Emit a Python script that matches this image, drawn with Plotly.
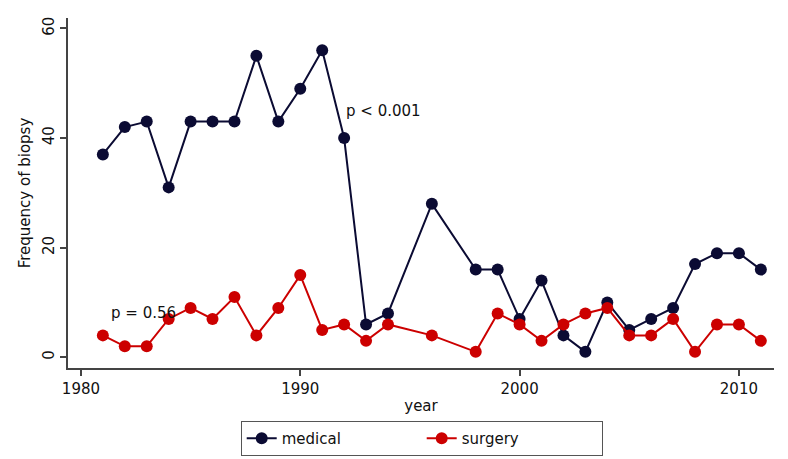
import plotly.graph_objects as go

years = [1981, 1982, 1983, 1984, 1985, 1986, 1987, 1988, 1989, 1990, 1991, 1992,
         1993, 1994, 1996, 1998, 1999, 2000, 2001, 2002, 2003, 2004, 2005, 2006,
         2007, 2008, 2009, 2010, 2011]
medical = [37, 42, 43, 31, 43, 43, 43, 55, 43, 49, 56, 40,
           6, 8, 28, 16, 16, 7, 14, 4, 1, 10, 5, 7,
           9, 17, 19, 19, 16]
surgery = [4, 2, 2, 7, 9, 7, 11, 4, 9, 15, 5, 6,
           3, 6, 4, 1, 8, 6, 3, 6, 8, 9, 4, 4,
           7, 1, 6, 6, 3]
x_ticks = [1980, 1990, 2000, 2010]
y_ticks = [0, 20, 40, 60]

navy = "#0b0b33"
red = "#cc0000"
font = "DejaVu Sans, Liberation Sans, Arial, sans-serif"
txt = "#111"

fig = go.Figure()
fig.add_trace(go.Scatter(x=years, y=medical, mode="lines+markers", name="medical",
                         line=dict(color=navy, width=2),
                         marker=dict(color=navy, size=12)))
fig.add_trace(go.Scatter(x=years, y=surgery, mode="lines+markers", name="surgery",
                         line=dict(color=red, width=2),
                         marker=dict(color=red, size=12)))

fig.add_annotation(x=1992.0, y=45, text="p < 0.001", showarrow=False,
                   xanchor="left", font=dict(size=15, color=txt, family=font))
fig.add_annotation(x=1981.3, y=8, text="p = 0.56", showarrow=False,
                   xanchor="left", font=dict(size=15, color=txt, family=font))

axis_common = dict(showline=True, linecolor="#444", linewidth=1.5, ticks="outside",
                   ticklen=6, tickcolor="#444", tickwidth=1.5, showgrid=False,
                   zeroline=False, automargin=False,
                   tickfont=dict(size=15, color=txt, family=font))
fig.update_xaxes(range=[1979.41, 2011.6], tickvals=x_ticks,
                 title=dict(text="year", font=dict(size=15, color=txt, family=font), standoff=4),
                 **axis_common)
fig.update_yaxes(range=[-1.95, 61.9], tickvals=y_ticks, tickangle=-90,
                 title=dict(text="Frequency of biopsy", font=dict(size=15, color=txt, family=font), standoff=6),
                 **axis_common)

# page body adds an 8px offset; size the figure so the plot area lands where the reference has it
fig.update_layout(
    width=780, height=451,
    margin=dict(l=60, r=14, t=10, b=91, autoexpand=False),
    paper_bgcolor="white", plot_bgcolor="white",
    font=dict(family=font, color=txt),
    legend=dict(orientation="h", x=0.501, xanchor="center",
                yref="container", y=0.084, yanchor="top",
                bordercolor="#555", borderwidth=1, font=dict(size=15, family=font),
                itemwidth=30, entrywidth=135),
    showlegend=True,
)

fig.write_html("out.html")
